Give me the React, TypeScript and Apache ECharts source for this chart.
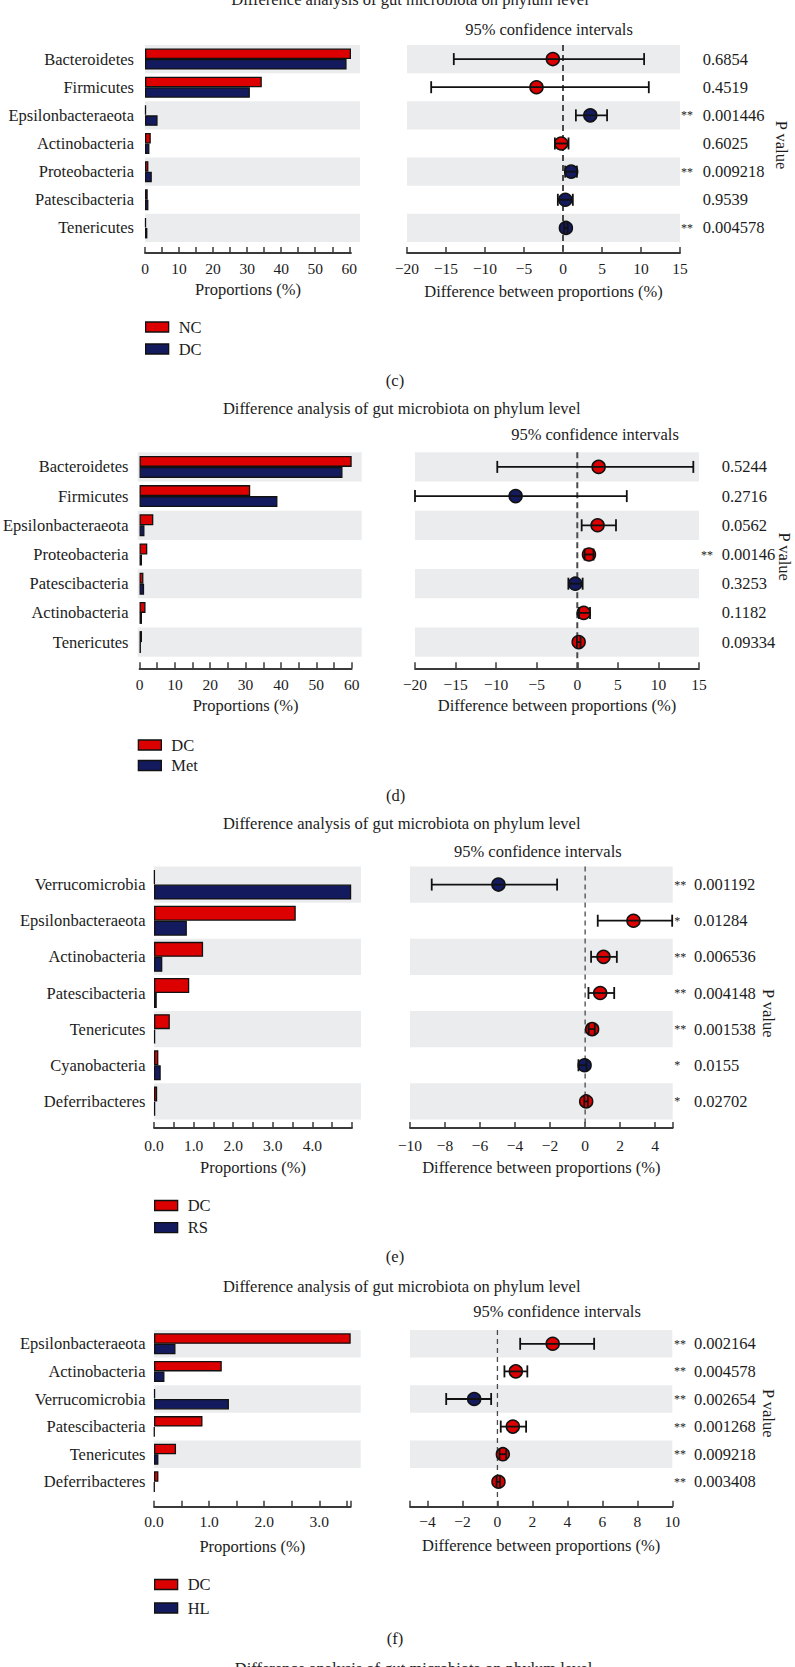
import React, { useEffect, useRef } from 'react';
import * as echarts from 'echarts';

const RED = '#dc0000';
const BLUE = '#131b5e';
const BAND = '#ebecee';
const INK = '#1c1c1c';
const AXIS = '#3a3a3a';
const FONT = '"Liberation Serif", "Times New Roman", serif';

// ---------- texts ----------
const mainTitle = 'Difference analysis of gut microbiota on phylum level';
const ciTitle = '95% confidence intervals';
const barAxisName = 'Proportions (%)';
const ciAxisName = 'Difference between proportions (%)';

// ---------- panel (c) ----------
const catsC = ['Bacteroidetes', 'Firmicutes', 'Epsilonbacteraeota', 'Actinobacteria', 'Proteobacteria', 'Patescibacteria', 'Tenericutes'];
const groupsC = ['NC', 'DC'];
const g1C = [60.5, 34.3, 0.3, 1.7, 1.0, 0.8, 0.3];
const g2C = [59.2, 30.8, 3.7, 1.3, 2.0, 1.0, 0.7];
const diffC = [-1.3, -3.4, 3.5, -0.23, 1.05, 0.3, 0.37];
const loC = [-14.0, -16.9, 1.65, -1.04, 0.28, -0.66, 0.15];
const hiC = [10.4, 11.0, 5.65, 0.71, 1.78, 1.26, 0.6];
const enrichC = [0, 0, 1, 0, 1, 1, 1];
const pC = ['0.6854', '0.4519', '0.001446', '0.6025', '0.009218', '0.9539', '0.004578'];
const starsC = ['', '', '**', '', '**', '', '**'];
const barTicksC = [0, 5, 10, 15, 20, 25, 30, 35, 40, 45, 50, 55, 60];
const barLabelsC = [0, 10, 20, 30, 40, 50, 60];
const ciTicksC = [-20, -15, -10, -5, 0, 5, 10, 15];

// ---------- panel (d) ----------
const catsD = ['Bacteroidetes', 'Firmicutes', 'Epsilonbacteraeota', 'Proteobacteria', 'Patescibacteria', 'Actinobacteria', 'Tenericutes'];
const groupsD = ['DC', 'Met'];
const g1D = [60.0, 31.3, 3.9, 2.2, 1.1, 1.7, 0.7];
const g2D = [57.4, 39.0, 1.4, 0.7, 1.3, 0.7, 0.4];
const diffD = [2.63, -7.6, 2.5, 1.44, -0.25, 0.79, 0.17];
const loD = [-9.86, -20.0, 0.54, 0.9, -1.1, 0.21, -0.05];
const hiD = [14.3, 6.1, 4.77, 2.0, 0.66, 1.57, 0.4];
const enrichD = [0, 1, 0, 0, 1, 0, 0];
const pD = ['0.5244', '0.2716', '0.0562', '0.00146', '0.3253', '0.1182', '0.09334'];
const starsD = ['', '', '', '**', '', '', ''];
const barTicksD = [0, 5, 10, 15, 20, 25, 30, 35, 40, 45, 50, 55, 60];
const barLabelsD = [0, 10, 20, 30, 40, 50, 60];
const ciTicksD = [-20, -15, -10, -5, 0, 5, 10, 15];

// ---------- panel (e) ----------
const catsE = ['Verrucomicrobia', 'Epsilonbacteraeota', 'Actinobacteria', 'Patescibacteria', 'Tenericutes', 'Cyanobacteria', 'Deferribacteres'];
const groupsE = ['DC', 'RS'];
const g1E = [0.02, 3.58, 1.24, 0.89, 0.40, 0.11, 0.08];
const g2E = [4.98, 0.83, 0.21, 0.07, 0.03, 0.17, 0.03];
const diffE = [-4.95, 2.76, 1.05, 0.86, 0.4, -0.03, 0.06];
const loE = [-8.76, 0.72, 0.34, 0.19, 0.2, -0.38, -0.05];
const hiE = [-1.6, 4.97, 1.81, 1.66, 0.55, 0.08, 0.16];
const enrichE = [1, 0, 0, 0, 0, 1, 0];
const pE = ['0.001192', '0.01284', '0.006536', '0.004148', '0.001538', '0.0155', '0.02702'];
const starsE = ['**', '*', '**', '**', '**', '*', '*'];
const barTicksE = [0, 0.5, 1, 1.5, 2, 2.5, 3, 3.5, 4, 4.5, 5];
const barLabelsE = [0, 1, 2, 3, 4];
const ciTicksE = [-10, -8, -6, -4, -2, 0, 2, 4, 5];
const ciLabelsE = [-10, -8, -6, -4, -2, 0, 2, 4];

// ---------- panel (f) ----------
const catsF = ['Epsilonbacteraeota', 'Actinobacteria', 'Verrucomicrobia', 'Patescibacteria', 'Tenericutes', 'Deferribacteres'];
const groupsF = ['DC', 'HL'];
const g1F = [3.57, 1.23, 0.02, 0.88, 0.40, 0.08];
const g2F = [0.39, 0.19, 1.36, 0.01, 0.08, 0.01];
const diffF = [3.16, 1.05, -1.33, 0.88, 0.31, 0.06];
const loF = [1.3, 0.4, -2.93, 0.19, 0.12, -0.05];
const hiF = [5.53, 1.71, -0.36, 1.64, 0.5, 0.15];
const enrichF = [0, 0, 1, 0, 0, 0];
const pF = ['0.002164', '0.004578', '0.002654', '0.001268', '0.009218', '0.003408'];
const starsF = ['**', '**', '**', '**', '**', '**'];
const barTicksF = [0, 0.5, 1, 1.5, 2, 2.5, 3, 3.5, 3.57];
const barLabelsF = [0, 1, 2, 3];
const ciTicksF = [-5, -4, -2, 0, 2, 4, 6, 8, 10];
const ciLabelsF = [-4, -2, 0, 2, 4, 6, 8, 10];

// ---------- panel definitions (data + layout) ----------
const panels = [
  {
    key: 'c', cats: catsC, groups: groupsC, g1: g1C, g2: g2C, diff: diffC, lo: loC, hi: hiC, enrich: enrichC, p: pC, stars: starsC,
    barTicks: barTicksC, barLabels: barLabelsC, barMax: 60.5, dec: 0, ciMin: -20, ciMax: 15, ciTicks: ciTicksC, ciLabels: ciTicksC,
    L: { top: 45, height: 197, barLeft: 145, bgRight: 360, barRight: 351, ciLeft: 407, ciRight: 680, offset: 11, barW: 10.5,
      catMargin: 11, legLeft: 145, legTop: 318.5, legGap: 5, pMargin: 1, starW: 21.7, labMargin: 7.5, nameGapBar: 27.5, nameGapCi: 29.5,
      title: [410, -1], ciTitle: [549, 29], label: [395, 380], pv: [781.7, 145], dashW: 2, dash: [6, 4] },
  },
  {
    key: 'd', cats: catsD, groups: groupsD, g1: g1D, g2: g2D, diff: diffD, lo: loD, hi: hiD, enrich: enrichD, p: pD, stars: starsD,
    barTicks: barTicksD, barLabels: barLabelsD, barMax: 60, dec: 0, ciMin: -20, ciMax: 15, ciTicks: ciTicksD, ciLabels: ciTicksD,
    L: { top: 452.3, height: 204.4, barLeft: 137.7, bgRight: 361.7, barRight: 351.7, ciLeft: 415, ciRight: 699, offset: 11.6, barW: 11,
      catMargin: 11, legLeft: 137.7, legTop: 736.5, legGap: 3.5, pMargin: 2, starW: 20.7, labMargin: 8, nameGapBar: 29, nameGapCi: 29,
      title: [401.7, 408], ciTitle: [595, 434], label: [395.7, 795], pv: [784.5, 556.7], dashW: 2, dash: [6, 4] },
  },
  {
    key: 'e', cats: catsE, groups: groupsE, g1: g1E, g2: g2E, diff: diffE, lo: loE, hi: hiE, enrich: enrichE, p: pE, stars: starsE,
    barTicks: barTicksE, barLabels: barLabelsE, barMax: 5, dec: 1, ciMin: -10, ciMax: 5, ciTicks: ciTicksE, ciLabels: ciLabelsE,
    L: { top: 866.5, height: 253, barLeft: 154, bgRight: 361, barRight: 352, ciLeft: 410, ciRight: 672.7, offset: 8.5, barW: 15,
      catMargin: 8.5, legLeft: 154, legTop: 1197, legGap: 5.2, pMargin: 1.6, starW: 19.7, labMargin: 9, nameGapBar: 30.5, nameGapCi: 30.5,
      title: [401.7, 823.3], ciTitle: [537.8, 851], label: [395, 1256.7], pv: [768.3, 1013.3], dashW: 1.3, dash: [5, 4] },
  },
  {
    key: 'f', cats: catsF, groups: groupsF, g1: g1F, g2: g2F, diff: diffF, lo: loF, hi: hiF, enrich: enrichF, p: pF, stars: starsF,
    barTicks: barTicksF, barLabels: barLabelsF, barMax: 3.57, dec: 1, ciMin: -5, ciMax: 10, ciTicks: ciTicksF, ciLabels: ciLabelsF,
    L: { top: 1330, height: 165.6, barLeft: 154, bgRight: 360.7, barRight: 350.7, ciLeft: 410, ciRight: 672.3, offset: 11.1, barW: 10.5,
      catMargin: 8.5, legLeft: 154, legTop: 1576, legGap: 6.5, pMargin: 1.6, starW: 20, labMargin: 7, nameGapBar: 31.5, nameGapCi: 30,
      title: [401.7, 1286.7], ciTitle: [557, 1311.7], label: [395, 1638], pv: [768.3, 1413.3], dashW: 1.3, dash: [5, 4] },
  },
];
const bottomTitlePos = [413.5, 1668];

const TXT = 16.5;
const TICK = 15.5;

function fmt(v: number, dec: number) {
  const s = Math.abs(v).toFixed(dec);
  return v < 0 ? '\u2212' + s : s;
}

function textEl(text: string, pos: number[], extra: any = {}) {
  return {
    type: 'text', x: pos[0], y: pos[1], rotation: extra.rotation || 0, silent: true,
    style: {
      text, fill: INK, fontSize: extra.fontSize || TXT, fontFamily: FONT,
      textAlign: 'center', textVerticalAlign: 'middle', align: 'center', verticalAlign: 'middle',
    },
  };
}

function buildOption() {
  const grid: any[] = [];
  const xAxis: any[] = [];
  const yAxis: any[] = [];
  const series: any[] = [];
  const legend: any[] = [];
  const graphic: any[] = [];

  const axisLine = { show: true, lineStyle: { color: AXIS, width: 1.8 } };
  const labelStyle = { fontSize: TICK, fontFamily: FONT, color: INK };
  const nameStyle = { fontSize: TXT, fontFamily: FONT, color: INK };

  panels.forEach((P) => {
    const L = P.L;
    const gBg = grid.length;
    grid.push({ left: L.barLeft, top: L.top, width: L.bgRight - L.barLeft, height: L.height });
    const gBar = grid.length;
    grid.push({ left: L.barLeft, top: L.top, width: L.barRight - L.barLeft, height: L.height });
    const gCi = grid.length;
    grid.push({ left: L.ciLeft, top: L.top, width: L.ciRight - L.ciLeft, height: L.height });

    xAxis.push({ gridIndex: gBg, type: 'value', show: false, min: 0, max: 1 });
    const xBar = xAxis.length;
    xAxis.push({
      gridIndex: gBar, type: 'value', min: 0, max: P.barMax, offset: L.offset,
      axisLine, splitLine: { show: false },
      axisTick: { show: true, inside: true, length: 6, customValues: P.barTicks, lineStyle: { color: AXIS, width: 1.5 } },
      axisLabel: { ...labelStyle, margin: L.labMargin, customValues: P.barLabels, formatter: (v: number) => fmt(v, P.dec) },
      name: barAxisName, nameLocation: 'middle', nameGap: L.nameGapBar, nameTextStyle: nameStyle,
    });
    const xCi = xAxis.length;
    xAxis.push({
      gridIndex: gCi, type: 'value', min: P.ciMin, max: P.ciMax, offset: L.offset,
      axisLine, splitLine: { show: false },
      axisTick: { show: true, inside: true, length: 6, customValues: P.ciTicks, lineStyle: { color: AXIS, width: 1.5 } },
      axisLabel: { ...labelStyle, margin: L.labMargin, customValues: P.ciLabels, formatter: (v: number) => fmt(v, 0) },
      name: ciAxisName, nameLocation: 'middle', nameGap: L.nameGapCi, nameTextStyle: nameStyle,
    });

    const bandAxis = (gi: number) => ({
      gridIndex: gi, type: 'category', data: P.cats, inverse: true,
      axisLine: { show: false }, axisTick: { show: false }, axisLabel: { show: false },
      splitLine: { show: false },
      splitArea: { show: true, interval: 0, areaStyle: { color: [BAND, 'rgba(255,255,255,0)'] } },
    });
    yAxis.push(bandAxis(gBg));
    const yBar = yAxis.length;
    yAxis.push({
      gridIndex: gBar, type: 'category', data: P.cats, inverse: true,
      axisLine: { show: false }, axisTick: { show: false },
      axisLabel: { interval: 0, margin: L.catMargin, fontSize: TXT, fontFamily: FONT, color: INK },
    });
    const yCi = yAxis.length;
    yAxis.push(bandAxis(gCi));
    yAxis.push({
      gridIndex: gCi, type: 'category', data: P.p, inverse: true, position: 'right',
      axisLine: { show: false }, axisTick: { show: false },
      axisLabel: {
        interval: 0, margin: L.pMargin, align: 'left',
        formatter: (v: string, i: number) => `{s|${P.stars[i] || ' '}}{p|${v}}`,
        rich: {
          s: { width: L.starW, fontSize: 12, fontFamily: FONT, color: INK, align: 'left' },
          p: { fontSize: TXT, fontFamily: FONT, color: INK },
        },
      },
    });

    const n1 = `${P.groups[0]}|${P.key}`;
    const n2 = `${P.groups[1]}|${P.key}`;
    series.push({
      type: 'bar', name: n1, xAxisIndex: xBar, yAxisIndex: yBar, data: P.g1, barWidth: L.barW, barGap: '0%',
      itemStyle: { color: RED, borderColor: '#111', borderWidth: 1.3 },
    });
    series.push({
      type: 'bar', name: n2, xAxisIndex: xBar, yAxisIndex: yBar, data: P.g2, barWidth: L.barW, barGap: '0%',
      itemStyle: { color: BLUE, borderColor: '#111', borderWidth: 1.3 },
    });

    // zero reference line
    series.push({
      type: 'custom', xAxisIndex: xCi, yAxisIndex: yCi, data: [[0, 0]], z: 1, silent: true,
      renderItem: (params: any, api: any) => {
        const p = api.coord([0, 0]);
        const cs = params.coordSys;
        return {
          type: 'line',
          shape: { x1: p[0], y1: cs.y, x2: p[0], y2: cs.y + cs.height + L.offset },
          style: { stroke: '#4a4a4a', lineWidth: L.dashW, lineDash: L.dash },
        };
      },
    });

    // points
    series.push({
      type: 'scatter', xAxisIndex: xCi, yAxisIndex: yCi, symbolSize: 13, z: 3,
      data: P.diff.map((d, i) => ({ value: [d, i], itemStyle: { color: P.enrich[i] === 0 ? RED : BLUE } })),
      itemStyle: { borderColor: '#111', borderWidth: 1.5, opacity: 1 },
    });

    // error bars
    series.push({
      type: 'custom', xAxisIndex: xCi, yAxisIndex: yCi, z: 4, silent: true,
      data: P.lo.map((l, i) => [l, P.hi[i], i]),
      encode: { x: [0, 1], y: 2 },
      renderItem: (params: any, api: any) => {
        const a = api.coord([api.value(0), api.value(2)]);
        const b = api.coord([api.value(1), api.value(2)]);
        const cap = 6;
        const st = { stroke: '#111', lineWidth: 1.8 };
        return {
          type: 'group',
          children: [
            { type: 'line', shape: { x1: a[0], y1: a[1], x2: b[0], y2: b[1] }, style: st },
            { type: 'line', shape: { x1: a[0], y1: a[1] - cap, x2: a[0], y2: a[1] + cap }, style: st },
            { type: 'line', shape: { x1: b[0], y1: b[1] - cap, x2: b[0], y2: b[1] + cap }, style: st },
          ],
        };
      },
    });

    legend.push({
      left: L.legLeft, top: L.legTop, orient: 'vertical', icon: 'rect', itemWidth: 23, itemHeight: 10,
      itemGap: L.legGap, padding: 0, selectedMode: false, data: [n1, n2],
      formatter: (name: string) => name.split('|')[0],
      itemStyle: { borderColor: '#111', borderWidth: 1.3 },
      textStyle: { fontSize: TXT, fontFamily: FONT, color: INK, padding: [0, 0, 0, 5], lineHeight: 16.5 },
    });

    graphic.push(textEl(mainTitle, L.title));
    graphic.push(textEl(ciTitle, L.ciTitle));
    graphic.push(textEl(`(${P.key})`, L.label));
    graphic.push(textEl('P value', L.pv, { rotation: -Math.PI / 2, fontSize: 16.5 }));
  });
  graphic.push(textEl(mainTitle, bottomTitlePos));

  return {
    animation: false,
    backgroundColor: '#ffffff',
    grid, xAxis, yAxis, series, legend, graphic,
  };
}

export default function App() {
  const ref = useRef<HTMLDivElement>(null);
  useEffect(() => {
    if (!ref.current) return;
    const chart = echarts.init(ref.current, undefined, { renderer: 'svg' });
    chart.setOption(buildOption() as any);
    return () => chart.dispose();
  }, []);
  return <div ref={ref} style={{ position: 'absolute', left: 0, top: 0, width: 795, height: 1667, background: '#fff' }} />;
}
